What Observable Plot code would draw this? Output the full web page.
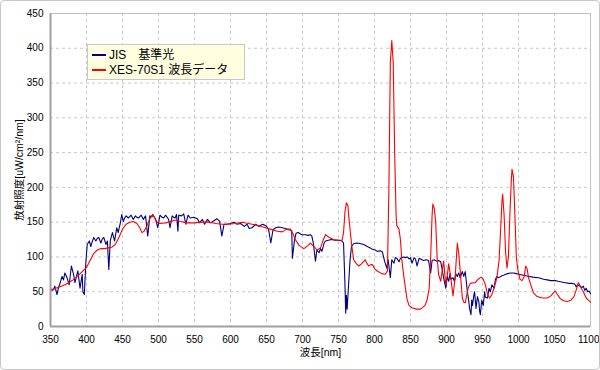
<!DOCTYPE html>
<html><head><meta charset="utf-8">
<script src="https://cdn.jsdelivr.net/npm/d3@7"></script>
<script src="https://cdn.jsdelivr.net/npm/@observablehq/plot@0.6"></script>
<style>
body{margin:0;background:#fff;}
#wrap{position:relative;width:600px;height:370px;overflow:hidden;}
#border{position:absolute;left:0;top:0;width:598px;height:368px;border:1px solid #c8c8c8;border-radius:4px;pointer-events:none;}
#legend{position:absolute;left:87px;top:44px;width:156px;height:34px;background:#ffffe0;border:1px solid #c8c8c8;font:12px "Liberation Sans","Noto Sans CJK JP",sans-serif;color:#000;}
#legend .row{position:absolute;left:4px;height:15px;line-height:15px;white-space:nowrap;}
#legend .sw{display:inline-block;width:14px;height:2px;vertical-align:middle;margin-right:3px;position:relative;top:-1px;}
</style>
</head><body>
<div id="wrap"><div id="chart"></div><div id="legend"></div><div id="border"></div></div>
<script>
const seriesNames = ["JIS\u3000基準光", "XES-70S1 波長データ"];
const seriesColors = ["#000080", "#ff0000"];
const xTicks = [350,400,450,500,550,600,650,700,750,800,850,900,950,1000,1050,1100];
const yTicks = [0,50,100,150,200,250,300,350,400,450];
const xLabel = "波長[nm]";
const yLabel = "放射照度[uW/cm²/nm]";

const jisNm = [350,352,354,356,359,361,364,366,368,370,373,376,379,382,384,386,388,391,394,395,397,399,401,404,406,408,410,413,415,417,420,422,424,427,429,431,433,436,439,442,444,447,449,451,453,455,458,460,462,465,468,470,472,474,476,479,482,485,488,490,492,495,497,499,502,505,507,510,512,514,516,519,521,523,525,527,528,532,535,538,541,544,549,554,557,561,564,568,572,577,581,585,588,591,595,600,605,609,614,619,623,626,630,635,639,645,650,653,656,659,663,667,672,676,681,685,686,689,691,694,699,704,708,711,713,715,718,720,723,725,727,730,732,736,740,745,750,755,757,759,760,761,762,764,766,768,771,776,781,785,790,794,797,801,804,808,811,814,817,819,822,824,827,829,831,834,836,840,843,846,848,850,852,855,857,859,862,864,868,872,875,878,880,883,886,889,892,894,896,899,901,903,905,906,909,911,913,915,917,919,922,924,926,928,929,931,932,934,935,936,938,939,941,943,945,946,947,949,951,953,954,957,959,961,963,966,968,970,972,974,977,980,982,985,989,993,997,1000,1005,1010,1015,1020,1028,1035,1040,1045,1051,1055,1060,1065,1070,1074,1078,1080,1082,1085,1088,1090,1092,1094,1096,1098,1100];
const jisVal = [55,52,53,58,46,55,65,72,67,77,70,60,87,75,63,72,80,55,75,50,46,91,118,123,115,122,128,123,127,128,120,126,128,118,123,82,123,135,123,142,135,149,161,151,156,159,156,158,160,154,159,157,156,158,160,154,159,130,159,158,161,156,150,142,160,157,156,160,157,154,142,159,157,156,161,137,160,159,162,147,160,156,157,155,149,154,147,154,149,152,155,151,130,147,147,148,150,147,148,144,147,141,142,147,144,147,144,139,120,139,142,143,142,141,139,138,98,125,134,135,132,132,131,132,130,120,94,110,106,112,108,120,123,124,125,124,124,123,120,60,19,45,25,60,95,115,119,120,119,118,115,113,111,110,108,109,107,94,84,96,70,96,91,99,98,93,98,100,99,100,97,99,91,99,97,87,98,97,95,96,95,77,95,96,94,95,93,82,70,55,72,65,76,68,70,65,76,72,77,70,79,72,79,60,50,36,26,17,38,30,45,50,26,43,35,22,17,38,30,50,42,41,55,50,60,55,68,72,70,71,73,74,75,76,77,77,76,75,74,73,72,71,70,68,67,66,66,65,64,63,62,62,61,57,60,58,56,58,52,55,50,51,47];

const xesNm = [350,355,360,365,370,375,380,385,390,395,400,405,410,415,420,425,430,435,440,445,450,455,460,465,470,474,477,480,484,488,492,495,498,502,510,520,525,530,540,550,560,570,580,588,597,607,616,625,635,645,655,665,672,678,683,687,690,695,702,707,711,716,720,725,729,732,737,743,750,755,757,759,761,763,765,768,771,775,778,782,787,790,792,795,797,801,805,810,815,818,820,822,824,826,828,830,831,834,836,838,841,843,845,848,852,858,864,870,873,876,878,880,881,883,885,887,889,892,894,896,899,901,903,906,909,912,915,917,919,922,924,926,930,933,937,940,944,948,951,954,957,960,963,966,970,973,975,977,978,980,982,984,986,988,990,991,993,995,997,999,1002,1005,1008,1010,1012,1014,1017,1021,1026,1033,1040,1045,1049,1051,1054,1058,1063,1068,1073,1077,1080,1083,1085,1087,1090,1094,1097,1100];
const xesVal = [53,54,56,58,60,63,66,70,75,80,85,95,105,110,112,112,113,114,118,128,140,147,150,151,148,142,135,137,145,155,160,156,150,148,149,152,153,151,149,149,150,150,148,147,147,148,150,148,146,143,140,137,136,140,140,133,125,117,112,116,120,115,110,113,125,132,128,125,124,124,135,165,178,174,150,120,96,90,87,90,96,90,87,89,89,82,79,76,75,80,200,380,411,380,250,160,145,140,125,95,70,55,40,30,27,25,25,30,38,55,100,160,176,170,150,100,75,65,80,94,60,72,90,70,44,70,120,105,80,41,35,34,55,62,63,63,68,71,68,60,46,41,46,55,70,95,135,180,190,160,108,84,100,160,210,226,215,160,100,82,68,66,72,87,83,70,60,48,43,41,41,44,49,51,46,40,37,36,38,43,52,63,60,55,50,41,38,35];

const jis = jisNm.map((nm, i) => ({nm, v: jisVal[i]}));
const xes = xesNm.map((nm, i) => ({nm, v: xesVal[i]}));

const font = '"Liberation Sans","Noto Sans CJK JP",sans-serif';
const fmt = d => String(d);
const lastTick = xTicks[xTicks.length - 1];
const chart = Plot.plot({
  width: 600, height: 370,
  marginLeft: 50, marginRight: 10, marginTop: 13, marginBottom: 44,
  style: {fontFamily: font, fontSize: "10px", background: "transparent", color: "#000"},
  x: {domain: [350, 1100]},
  y: {domain: [0, 450]},
  marks: [
    Plot.gridX(xTicks, {stroke: "#c8c8c8", strokeOpacity: 1, strokeDasharray: "3,3"}),
    Plot.gridY(yTicks, {stroke: "#c8c8c8", strokeOpacity: 1, strokeDasharray: "3,3"}),
    Plot.frame({stroke: "#c0c0c0"}),
    Plot.line(jis, {x: "nm", y: "v", stroke: seriesColors[0], strokeWidth: 1.1}),
    Plot.line(xes, {x: "nm", y: "v", stroke: seriesColors[1], strokeWidth: 1.1}),
    Plot.ruleX([350], {stroke: "#a0a0a0", strokeWidth: 2}),
    Plot.ruleY([0], {stroke: "#a0a0a0", strokeWidth: 2}),
    Plot.axisX(xTicks.filter(t => t !== lastTick), {tickSize: 0, tickPadding: 9, label: null, fontSize: 10, tickFormat: fmt}),
    Plot.axisX([lastTick], {tickSize: 0, tickPadding: 9, label: null, fontSize: 10, tickFormat: fmt, textAnchor: "end", dx: 9}),
    Plot.axisY(yTicks, {tickSize: 0, tickPadding: 7, label: null, fontSize: 10, tickFormat: fmt}),
    Plot.text([xLabel], {frameAnchor: "bottom", dy: 26, text: d => d, fontSize: 10.5, lineAnchor: "middle", textAnchor: "middle"}),
    Plot.text([yLabel], {frameAnchor: "left", dx: -31, rotate: -90, text: d => d, fontSize: 10.5, lineAnchor: "middle", textAnchor: "middle"})
  ]
});
document.getElementById("chart").appendChild(chart);

const legend = document.getElementById("legend");
seriesNames.forEach((name, i) => {
  const row = document.createElement("div");
  row.className = "row";
  row.style.top = (3 + i * 15) + "px";
  const sw = document.createElement("span");
  sw.className = "sw";
  sw.style.background = seriesColors[i];
  row.appendChild(sw);
  row.appendChild(document.createTextNode(name));
  legend.appendChild(row);
});
</script>
</body></html>
